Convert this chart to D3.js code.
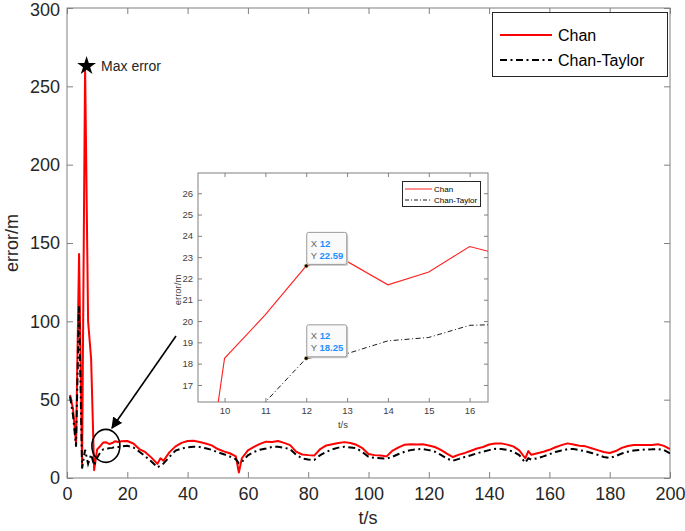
<!DOCTYPE html>
<html><head><meta charset="utf-8">
<script src="https://cdn.jsdelivr.net/npm/d3@7"></script>
<style>body{margin:0;background:#fff}text{font-family:"Liberation Sans",Arial,sans-serif}</style>
</head><body><svg id="c" width="685" height="531"></svg>
<script>
const timeS = [1,2,3,4,5,6,7,8,9,10,11,12,13,14,15,16,17,18,20,22,24,26,28,30,31,32,34,36,38,40,42,44,46,48,50,52,54,56,57,58,60,62,64,66,68,70,72,74,76,78,80,82,84,86,88,90,92,94,96,98,100,102,104,106,108,110,112,114,116,118,120,122,124,126,128,130,132,134,136,138,140,142,144,146,148,150,152,153,154,156,158,160,162,164,166,168,170,172,174,176,178,180,182,184,186,188,190,192,194,196,198,200];
const chan = [53,44,22,143,8,263,100,76,5,18.25,20.3,22.59,22.8,21.7,22.3,23.5,23.0,23.4,23.6,22.0,18.5,16.5,13.0,9.0,12.6,11.0,16.5,20.2,22.4,23.6,23.8,23.0,22.0,20.8,18.5,17.0,15.8,13.8,3.5,12.6,17.6,19.8,21.8,23.2,23.0,23.6,22.4,21.0,16.8,15.0,14.6,14.3,18.5,20.8,21.6,22.4,22.9,22.3,21.2,19.0,15.3,14.6,14.3,13.8,17.5,19.6,21.3,21.6,21.4,21.5,20.8,19.8,18.0,15.6,13.4,14.9,16.0,17.4,18.8,19.8,21.4,22.0,22.1,21.3,20.2,17.6,12.6,17.2,14.8,15.8,16.8,18.0,19.6,21.0,22.1,21.4,20.6,20.2,19.0,17.8,16.6,16.0,17.2,19.2,20.4,21.0,21.0,21.0,21.0,21.5,20.5,18.5];
const chanTaylor = [52,40,20,110,6,18,9,15,8,13,16.2,18.25,18.47,19.07,19.23,19.8,19.85,20.1,20.6,19.5,16.8,13.8,10.5,6.8,8.0,9.2,13.5,17.5,18.8,19.6,20.0,19.8,19.0,18.0,16.4,15.2,13.7,12.0,9.4,10.2,14.5,16.6,18.0,18.8,19.8,20.0,19.3,18.4,14.8,12.5,11.8,11.5,14.6,16.6,18.3,19.4,20.0,19.5,19.0,16.5,13.6,12.8,12.6,12.4,13.6,15.3,16.8,17.8,18.4,18.5,17.8,16.8,14.8,12.4,11.0,12.2,13.5,14.5,15.8,16.8,17.8,18.6,18.5,18.0,16.8,14.6,9.8,12.6,11.8,12.6,13.8,15.2,16.6,17.6,18.4,18.5,17.8,17.0,16.0,14.8,13.4,12.8,14.0,15.6,16.8,17.6,17.9,18.2,18.3,18.5,17.8,15.7];
const xTicks = [0,20,40,60,80,100,120,140,160,180,200];
const yTicks = [0,50,100,150,200,250,300];
const insetXTicks = [10,11,12,13,14,15,16];
const insetYTicks = [17,18,19,20,21,22,23,24,25,26];
const seriesNames = ["Chan","Chan-Taylor"];
const tipT = 12, tipChan = 22.59, tipCT = 18.25;
const maxT = 6, maxV = 263;

const svg = d3.select("#c");
const axCol = "#808080", txtCol = "#262626";
const data = timeS.map((t,i)=>({t, c:chan[i], ct:chanTaylor[i]}));

// main axes
const x = d3.scaleLinear([0,200],[67,670]);
const y = d3.scaleLinear([0,300],[478,8]);
const g = svg.append("g");
function styleAxis(sel){ sel.selectAll("path").remove(); sel.selectAll("line").attr("stroke",axCol);
  sel.selectAll("text").attr("fill",txtCol).style("font-family","Liberation Sans, Arial"); }
g.append("g").attr("transform","translate(0,478)").call(d3.axisBottom(x).tickValues(xTicks).tickSizeInner(-6).tickSizeOuter(0).tickPadding(9)).attr("font-size",18).call(styleAxis);
g.append("g").attr("transform","translate(0,8)").call(d3.axisTop(x).tickValues(xTicks).tickSizeInner(-6).tickSizeOuter(0).tickFormat("")).call(styleAxis);
const yAx = g.append("g").attr("transform","translate(67,0)").call(d3.axisLeft(y).tickValues(yTicks).tickSizeInner(-6).tickSizeOuter(0).tickPadding(7)).attr("font-size",18).call(styleAxis);
yAx.selectAll("text").filter(d=>d===300).attr("dy","0.42em");
g.append("g").attr("transform","translate(670,0)").call(d3.axisRight(y).tickValues(yTicks).tickSizeInner(-6).tickSizeOuter(0).tickFormat("")).call(styleAxis);
g.append("rect").attr("x",67).attr("y",8).attr("width",603).attr("height",470).attr("fill","none").attr("stroke",axCol).attr("stroke-width",1);
g.append("text").attr("x",368).attr("y",524).attr("text-anchor","middle").attr("font-size",18).attr("fill",txtCol).text("t/s");
g.append("text").attr("transform","translate(18,243) rotate(-90)").attr("text-anchor","middle").attr("font-size",18).attr("fill",txtCol).text("error/m");

svg.append("clipPath").attr("id","mc").append("rect").attr("x",67).attr("y",8).attr("width",603).attr("height",470);
const line = d3.line().x(d=>x(d.t));
svg.append("path").attr("clip-path","url(#mc)").attr("d",line.y(d=>y(d.c))(data)).attr("fill","none").attr("stroke","#ff0000").attr("stroke-width",2).attr("stroke-linejoin","round");
svg.append("path").attr("clip-path","url(#mc)").attr("d",line.y(d=>y(d.ct))(data)).attr("fill","none").attr("stroke","#000").attr("stroke-width",2).attr("stroke-dasharray","7,3.5,2,3.5");

// max marker
svg.append("path").attr("d",d3.symbol(d3.symbolStar,110)()).attr("transform",`translate(${x(maxT)+1.5},${y(maxV)})`).attr("fill","#000");
svg.append("text").attr("x",x(maxT)+16).attr("y",y(maxV)).attr("dy","0.35em").attr("font-size",14).attr("fill",txtCol).text("Max error");

// circle + arrow
svg.append("ellipse").attr("cx",x(12.9)).attr("cy",y(20.5)).attr("rx",14).attr("ry",16.5).attr("fill","none").attr("stroke","#000").attr("stroke-width",1.6);
const defs = svg.append("defs");
defs.append("marker").attr("id","ah").attr("viewBox","0 0 10 10").attr("refX",9).attr("refY",5).attr("markerWidth",7).attr("markerHeight",7).attr("orient","auto-start-reverse")
  .append("path").attr("d","M0,0 L10,5 L0,10 z").attr("fill","#000");
svg.append("line").attr("x1",176).attr("y1",336).attr("x2",112).attr("y2",428).attr("stroke","#000").attr("stroke-width",1.6).attr("marker-end","url(#ah)");

// main legend
const lg = svg.append("g");
lg.append("rect").attr("x",492.5).attr("y",12.5).attr("width",175).attr("height",64).attr("fill","#fff").attr("stroke","#262626").attr("stroke-width",1);
lg.append("line").attr("x1",500).attr("x2",552).attr("y1",35).attr("y2",35).attr("stroke","#ff0000").attr("stroke-width",2);
lg.append("line").attr("x1",500).attr("x2",552).attr("y1",60).attr("y2",60).attr("stroke","#000").attr("stroke-width",2).attr("stroke-dasharray","7,3.5,2,3.5");
lg.append("text").attr("x",558).attr("y",35).attr("dy","0.35em").attr("font-size",16).attr("fill","#000").text(seriesNames[0]);
lg.append("text").attr("x",558).attr("y",60).attr("dy","0.35em").attr("font-size",16).attr("fill","#000").text(seriesNames[1]);

// inset
const ix = d3.scaleLinear([9.35,16.45],[198,488]);
const iy = d3.scaleLinear([16.2,26.95],[402,173]);
const ig = svg.append("g");
ig.append("rect").attr("x",198).attr("y",173).attr("width",290).attr("height",229).attr("fill","#fff");
const iCol = "#404040";
function styleI(sel){ sel.selectAll("path").remove(); sel.selectAll("line").attr("stroke",axCol);
  sel.selectAll("text").attr("fill",iCol).style("font-family","Liberation Sans, Arial"); }
ig.append("g").attr("transform","translate(0,402)").call(d3.axisBottom(ix).tickValues(insetXTicks).tickSizeInner(-4).tickSizeOuter(0).tickPadding(5)).attr("font-size",9.5).call(styleI);
ig.append("g").attr("transform","translate(0,173)").call(d3.axisTop(ix).tickValues(insetXTicks).tickSizeInner(-4).tickSizeOuter(0).tickFormat("")).call(styleI);
ig.append("g").attr("transform","translate(198,0)").call(d3.axisLeft(iy).tickValues(insetYTicks).tickSizeInner(-4).tickSizeOuter(0).tickPadding(5)).attr("font-size",9.5).call(styleI);
ig.append("g").attr("transform","translate(488,0)").call(d3.axisRight(iy).tickValues(insetYTicks).tickSizeInner(-4).tickSizeOuter(0).tickFormat("")).call(styleI);
ig.append("rect").attr("x",198).attr("y",173).attr("width",290).attr("height",229).attr("fill","none").attr("stroke",axCol);
ig.append("text").attr("x",343).attr("y",428).attr("text-anchor","middle").attr("font-size",9.5).attr("fill",iCol).text("t/s");
ig.append("text").attr("transform","translate(181,290) rotate(-90)").attr("text-anchor","middle").attr("font-size",9.5).attr("fill",iCol).text("error/m");
ig.append("clipPath").attr("id","ic").append("rect").attr("x",198).attr("y",173).attr("width",290).attr("height",229);
const iline = d3.line().x(d=>ix(d.t));
ig.append("path").attr("clip-path","url(#ic)").attr("d",iline.y(d=>iy(d.c))(data)).attr("fill","none").attr("stroke","#ff2020").attr("stroke-width",1.1);
ig.append("path").attr("clip-path","url(#ic)").attr("d",iline.y(d=>iy(d.ct))(data)).attr("fill","none").attr("stroke","#000").attr("stroke-width",0.9).attr("stroke-dasharray","5,2.5,1,2.5");
// inset legend
ig.append("rect").attr("x",402.5).attr("y",181.5).attr("width",78).attr("height",25).attr("fill","#fff").attr("stroke","#262626");
ig.append("line").attr("x1",405).attr("x2",432).attr("y1",189).attr("y2",189).attr("stroke","#ff2020").attr("stroke-width",1);
ig.append("line").attr("x1",405).attr("x2",432).attr("y1",200).attr("y2",200).attr("stroke","#000").attr("stroke-width",0.9).attr("stroke-dasharray","4,2,1,2");
ig.append("text").attr("x",434).attr("y",189).attr("dy","0.35em").attr("font-size",8).attr("fill","#000").text(seriesNames[0]);
ig.append("text").attr("x",434).attr("y",200).attr("dy","0.35em").attr("font-size",8).attr("fill","#000").text(seriesNames[1]);
// datatips
function tip(v){
  const px = ix(tipT), py = iy(v);
  const bx = px+0.5, by = py-33.5;
  ig.append("rect").attr("x",bx+1.5).attr("y",by+1.5).attr("width",40).attr("height",32).attr("rx",2).attr("fill","#cfcfcf");
  ig.append("rect").attr("x",bx).attr("y",by).attr("width",40).attr("height",32).attr("rx",2).attr("fill","#fafafa").attr("stroke","#9a9a9a");
  const t1 = ig.append("text").attr("x",bx+4).attr("y",by+11).attr("dy","0.35em").attr("font-size",9.5);
  t1.append("tspan").attr("fill","#666").text("X ");
  t1.append("tspan").attr("fill","#1e90ff").attr("font-weight","bold").text(String(tipT));
  const t2 = ig.append("text").attr("x",bx+4).attr("y",by+23).attr("dy","0.35em").attr("font-size",9.5);
  t2.append("tspan").attr("fill","#666").text("Y ");
  t2.append("tspan").attr("fill","#1e90ff").attr("font-weight","bold").text(v.toFixed(2));
  ig.append("circle").attr("cx",px).attr("cy",py).attr("r",2).attr("fill","#000").attr("stroke","#e8d88a").attr("stroke-width",0.6);
}
tip(tipChan); tip(tipCT);
</script></body></html>
